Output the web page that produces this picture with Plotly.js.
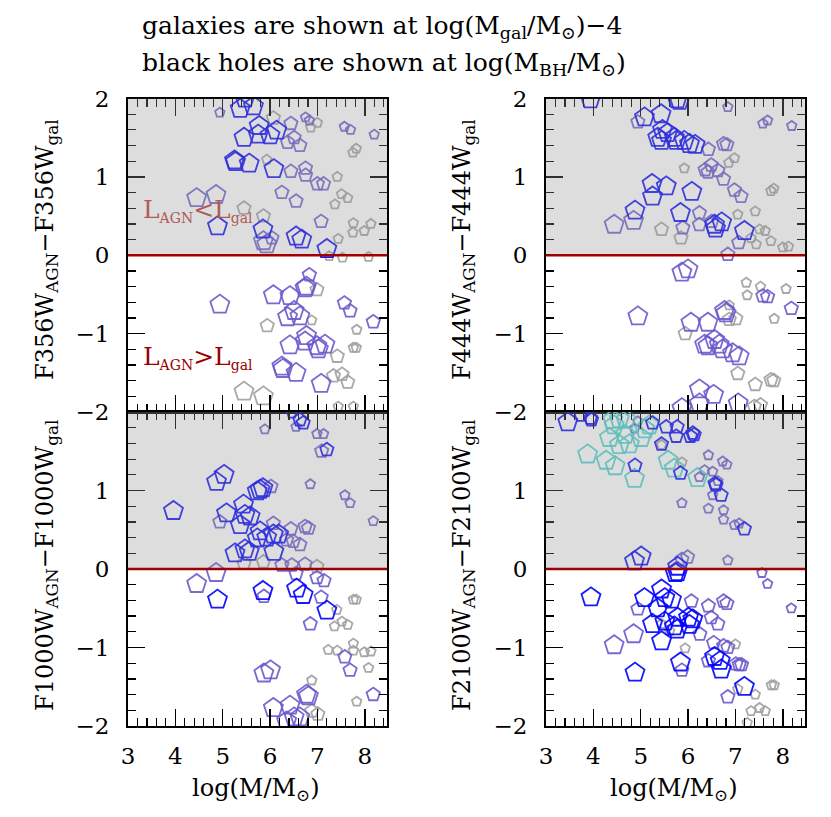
<!DOCTYPE html>
<html>
<head>
<meta charset="utf-8">
<script src="https://cdn.plot.ly/plotly-3.0.1.min.js"></script>
<style>
  html, body { margin: 0; padding: 0; background: #fff; }
  #plot { width: 831px; height: 817px; }
</style>
</head>
<body>
<div id="plot"></div>
<script>
// size class: 1 small, 2 medium, 3 large
// ---- F356W panel ----
const f356_blue_x = [5.37, 5.65, 5.47, 5.77, 6.14, 5.75, 6.00, 5.45, 5.25, 5.27, 5.56, 6.08, 4.89, 5.85, 6.55, 6.67, 7.20];
const f356_blue_y = [1.87, 1.90, 2.00, 1.65, 1.59, 1.54, 1.53, 1.50, 1.21, 1.19, 1.17, 1.10, 0.37, 0.33, 0.24, 0.20, 0.08];
const f356_blue_s = [3, 3, 3, 3, 3, 3, 3, 3, 3, 3, 3, 3, 3, 3, 3, 3, 3];

const f356_purp_x = [4.94, 6.44, 6.75, 6.83, 6.51, 6.37, 6.63, 7.57, 7.70, 8.20, 6.44, 6.75, 6.75, 7.00, 7.13, 4.45, 4.86, 6.25, 6.55, 7.08, 5.86, 5.93, 6.04,
  6.83, 6.77, 6.74, 6.07, 6.42, 4.94, 7.57, 7.69, 6.37, 6.51, 6.63, 8.18, 6.77, 6.74, 6.42, 6.99, 7.16, 7.02, 6.25, 6.27, 6.55, 7.08];
const f356_purp_y = [1.82, 1.68, 1.76, 1.72, 1.50, 1.44, 1.40, 1.64, 1.60, 1.54, 1.07, 1.11, 1.02, 0.91, 0.91, 0.73, 0.77, 0.80, 0.69, 0.43, 0.18, 0.14, 0.22,
  -0.25, -0.40, -0.42, -0.51, -0.52, -0.63, -0.61, -0.71, -0.79, -0.71, -0.78, -0.85, -1.03, -1.10, -1.15, -1.16, -1.14, -1.20, -1.42, -1.45, -1.50, -1.64];
const f356_purp_s = [1, 2, 1, 1, 2, 2, 2, 1, 1, 1, 2, 2, 2, 2, 2, 3, 3, 2, 2, 2, 3, 3, 2,
  2, 3, 3, 3, 3, 3, 2, 2, 3, 3, 3, 2, 3, 3, 3, 3, 3, 3, 3, 3, 3, 3];

const f356_gray_x = [6.07, 6.86, 7.00, 7.82, 7.75, 5.93, 7.42, 7.51, 7.64, 7.37, 5.45, 5.86, 7.76, 8.13, 7.75, 7.99, 7.44,
  7.25, 7.53, 8.08, 6.99, 6.88, 5.94, 7.83, 7.76, 7.82, 7.42, 7.34, 7.52, 7.64, 5.45, 5.86, 7.44, 7.76];
const f356_gray_y = [1.75, 1.63, 1.69, 1.36, 1.31, 1.22, 1.00, 0.78, 0.73, 0.65, 0.60, 0.50, 0.41, 0.40, 0.29, 0.31, 0.21,
  -0.01, -0.03, -0.02, -0.44, -0.83, -0.90, -0.95, -1.18, -1.18, -1.29, -1.54, -1.52, -1.62, -1.74, -1.80, -1.93, -1.93];
const f356_gray_s = [2, 1, 1, 1, 1, 1, 1, 1, 1, 1, 2, 2, 1, 1, 1, 1, 1,
  1, 1, 1, 2, 1, 2, 1, 1, 1, 2, 2, 2, 2, 3, 3, 1, 1];

// ---- F444W panel ----
const f444_blue_x = [3.94, 5.77, 5.82, 5.08, 5.43, 5.46, 5.57, 5.36, 5.44, 5.71, 5.75, 5.92, 6.03, 6.15, 5.24, 5.54, 5.25, 6.08, 4.88, 5.84, 6.56, 6.71, 6.58, 7.19];
const f444_blue_y = [1.99, 1.99, 1.97, 1.76, 1.80, 1.60, 1.56, 1.50, 1.46, 1.50, 1.46, 1.46, 1.42, 1.41, 0.91, 0.88, 0.75, 0.81, 0.57, 0.54, 0.39, 0.42, 0.34, 0.31];
const f444_blue_s = [3, 3, 3, 3, 3, 3, 3, 3, 3, 3, 3, 3, 3, 3, 3, 3, 3, 3, 3, 3, 3, 3, 3, 3];

const f444_purp_x = [6.84, 4.94, 7.58, 7.68, 8.19, 6.43, 6.75, 6.82, 6.36, 6.49, 6.42, 6.63, 6.75, 6.98, 7.12, 4.85, 4.44, 6.24, 6.24, 5.89, 6.50, 7.07, 6.84,
  5.87, 6.00, 7.58, 7.68, 8.18, 6.77, 6.80, 4.94, 6.06, 6.42, 6.35, 6.42, 6.56, 6.66, 6.73, 6.94, 7.08, 6.24, 6.54, 6.24, 5.87, 7.06];
const f444_purp_y = [1.89, 1.70, 1.68, 1.72, 1.65, 1.35, 1.42, 1.41, 1.09, 1.15, 1.06, 1.08, 0.97, 0.83, 0.75, 0.44, 0.39, 0.54, 0.39, 0.35, 0.43, 0.16, 0.01,
  -0.22, -0.18, -0.52, -0.53, -0.68, -0.71, -0.74, -0.78, -0.86, -0.86, -1.14, -1.16, -1.08, -1.14, -1.20, -1.25, -1.29, -1.71, -1.78, -1.89, -1.95, -1.89];
const f444_purp_s = [1, 2, 1, 1, 1, 2, 2, 2, 2, 2, 2, 2, 2, 2, 2, 3, 3, 2, 2, 2, 2, 2, 2,
  3, 3, 2, 2, 2, 3, 3, 3, 3, 3, 3, 3, 3, 3, 3, 3, 3, 3, 3, 3, 3, 3];

const f444_gray_x = [6.98, 6.86, 5.92, 7.75, 7.81, 7.05, 7.42, 5.44, 5.85, 7.33, 7.51, 7.63, 7.44, 7.75, 8.00, 8.12,
  7.23, 7.25, 7.53, 8.07, 7.82, 6.87, 7.01, 6.87, 5.94, 7.05, 7.42, 7.75, 7.81, 7.40, 7.53];
const f444_gray_y = [1.24, 1.18, 1.11, 0.82, 0.85, 0.52, 0.56, 0.33, 0.22, 0.22, 0.33, 0.31, 0.14, 0.18, 0.10, 0.11,
  -0.35, -0.51, -0.40, -0.43, -0.81, -0.64, -0.81, -0.82, -1.00, -1.51, -1.65, -1.59, -1.60, -1.93, -1.91];
const f444_gray_s = [1, 1, 1, 1, 1, 1, 1, 2, 2, 1, 1, 1, 1, 1, 1, 1,
  1, 1, 1, 1, 1, 1, 2, 2, 2, 2, 2, 2, 2, 2, 2];

// ---- F1000W panel ----
const f1000_blue_x = [6.46, 6.63, 6.70, 7.20, 5.03, 4.87, 5.79, 5.85, 5.73, 3.96, 5.44, 5.08, 5.58, 5.47, 5.37, 5.79, 5.73, 5.93, 6.07, 6.18, 5.26, 5.47, 5.56, 6.08,
  4.89, 5.85, 6.56, 6.70, 7.20];
const f1000_blue_y = [1.98, 1.90, 1.86, 1.52, 1.20, 1.11, 1.01, 1.03, 0.99, 0.74, 0.82, 0.71, 0.67, 0.69, 0.56, 0.48, 0.39, 0.40, 0.44, 0.44, 0.20, 0.25, 0.22, 0.22,
  -0.39, -0.28, -0.25, -0.33, -0.53];
const f1000_blue_s = [1, 2, 2, 2, 3, 3, 3, 3, 3, 3, 3, 3, 3, 3, 3, 3, 3, 3, 3, 3, 3, 3, 3, 3,
  3, 3, 3, 3, 3];

const f1000_purp_x = [6.55, 5.89, 6.99, 7.13, 7.09, 6.02, 6.85, 7.58, 7.69, 4.94, 8.18, 6.07, 6.44, 6.74, 6.81, 6.35, 6.49, 6.63, 6.25, 6.46, 6.74,
  4.86, 4.45, 5.87, 6.55, 6.99, 7.14, 7.08, 6.85, 7.58, 7.69, 5.87, 6.01, 6.77, 6.81, 8.18, 6.07, 6.42, 6.51, 6.63, 6.35];
const f1000_purp_y = [1.81, 1.78, 1.72, 1.72, 1.50, 1.05, 1.08, 0.94, 0.84, 0.60, 0.61, 0.58, 0.51, 0.54, 0.52, 0.37, 0.35, 0.31, 0.05, 0.05, 0.06,
  -0.05, -0.19, -0.35, -0.06, -0.11, -0.15, -0.36, -0.70, -1.12, -1.29, -1.33, -1.29, -1.60, -1.62, -1.60, -1.77, -1.74, -1.89, -1.89, -1.94];
const f1000_purp_s = [1, 1, 1, 1, 2, 2, 1, 1, 1, 2, 1, 2, 2, 2, 2, 2, 2, 2, 2, 2, 2,
  3, 3, 2, 2, 2, 2, 2, 2, 2, 2, 3, 3, 3, 3, 2, 3, 3, 3, 3, 3];

const f1000_gray_x = [5.45, 5.86, 6.99, 7.76, 7.82, 7.41, 7.52, 7.64, 7.36, 7.23, 7.42, 7.76, 7.76, 7.99, 8.13, 8.08, 6.88, 7.83, 6.88, 7.01];
const f1000_gray_y = [0.07, 0.09, 0.03, -0.39, -0.39, -0.52, -0.67, -0.71, -0.73, -1.03, -1.04, -0.95, -1.04, -1.06, -1.05, -1.26, -1.42, -1.69, -1.81, -1.85];
const f1000_gray_s = [2, 2, 2, 1, 1, 1, 1, 1, 1, 1, 1, 1, 1, 1, 1, 1, 1, 1, 2, 2];

// ---- F2100W panel ----
const f2100_blue_x = [3.46, 3.94, 3.96, 3.74, 5.25, 5.54, 5.77, 5.75, 6.10, 6.05, 6.13, 5.44, 4.88, 5.84, 6.57, 6.59, 6.70, 7.19, 5.01, 4.87, 5.78,
  5.78, 5.73, 3.95, 5.08, 5.44, 5.51, 5.65, 5.36, 5.25, 5.51, 5.78, 5.71, 6.01, 6.10, 6.03, 5.77, 5.44, 6.56, 6.68, 6.70, 5.84, 4.88, 7.19];
const f2100_blue_y = [1.87, 1.92, 1.90, 1.96, 1.86, 1.81, 1.81, 1.69, 1.73, 1.69, 1.71, 1.59, 1.32, 1.22, 1.09, 1.07, 0.94, 0.51, 0.16, 0.10, 0.03,
  -0.04, -0.05, -0.36, -0.37, -0.26, -0.37, -0.39, -0.50, -0.70, -0.67, -0.62, -0.73, -0.62, -0.64, -0.71, -0.77, -0.92, -1.12, -1.17, -1.28, -1.19, -1.32, -1.50];
const f2100_blue_s = [3, 2, 2, 2, 2, 2, 2, 2, 2, 2, 2, 2, 2, 2, 2, 2, 2, 2, 3, 3, 3,
  3, 3, 3, 3, 3, 3, 3, 3, 3, 3, 3, 3, 3, 3, 3, 3, 3, 3, 3, 3, 3, 3, 3];

const f2100_turq_x = [4.41, 4.55, 4.69, 4.44, 4.34, 4.55, 4.76, 4.67, 5.01, 5.09, 5.18, 3.88, 4.27, 4.46, 4.87, 5.58, 5.71, 6.20];
const f2100_turq_y = [1.90, 1.91, 1.90, 1.83, 1.67, 1.58, 1.59, 1.71, 1.67, 1.78, 1.83, 1.46, 1.38, 1.31, 1.15, 1.38, 1.28, 1.16];
const f2100_turq_s = [3, 3, 3, 3, 3, 3, 3, 3, 3, 3, 3, 3, 3, 3, 3, 3, 3, 3];

const f2100_purp_x = [4.94, 4.87, 6.43, 6.73, 6.82, 6.35, 6.52, 6.24, 6.63, 6.52, 5.87, 6.43, 6.75, 6.75, 6.98, 7.08, 5.87, 5.99, 6.84,
  7.56, 7.68, 4.94, 6.07, 6.43, 6.75, 6.82, 8.18, 6.49, 6.63, 6.25, 4.85, 4.44, 6.54, 6.75, 6.84, 6.43, 7.01, 7.08, 7.13, 5.87, 6.84];
const f2100_purp_y = [1.88, 1.79, 1.45, 1.37, 1.33, 1.26, 1.24, 1.17, 1.12, 0.94, 0.84, 0.77, 0.75, 0.63, 0.56, 0.58, 0.12, 0.15, 0.11,
  -0.05, -0.19, -0.51, -0.41, -0.47, -0.41, -0.44, -0.50, -0.62, -0.70, -0.83, -0.83, -0.97, -0.94, -0.98, -1.00, -1.17, -1.21, -1.22, -1.22, -1.29, -1.63];
const f2100_purp_s = [1, 1, 1, 1, 1, 1, 1, 1, 1, 1, 1, 1, 1, 1, 1, 1, 2, 2, 1,
  1, 1, 2, 2, 2, 2, 2, 1, 2, 2, 2, 3, 3, 2, 2, 2, 2, 2, 2, 2, 2, 2];

const f2100_gray_x = [5.44, 5.87, 5.44, 5.61, 5.94, 7.00, 7.76, 7.82, 7.05, 7.42, 7.33, 7.51, 7.63, 7.25];
const f2100_gray_y = [1.58, 1.36, -0.70, -0.79, -1.01, -0.96, -1.48, -1.48, -1.53, -1.60, -1.81, -1.77, -1.81, -1.96];
const f2100_gray_s = [1, 1, 1, 1, 1, 1, 1, 1, 1, 1, 1, 1, 1, 1];

const FONT = 'DejaVu Serif, Liberation Serif, serif';
const px = {1: 10, 2: 14, 3: 20};
const colors = {blue: '#0000ff', purp: '#6a5acd', gray: '#a0a0a0', turq: '#48d1cc'};

function pent(xs, ys, ss, col, xa, ya) {
  return {
    x: xs, y: ys, xaxis: xa, yaxis: ya,
    type: 'scatter', mode: 'markers', showlegend: false, hoverinfo: 'skip',
    marker: {
      symbol: 'pentagon-open',
      size: ss.map(s => px[s]),
      color: colors[col],
      opacity: 0.9,
      line: {width: 1.8}
    }
  };
}

const data = [
  pent(f356_gray_x, f356_gray_y, f356_gray_s, 'gray', 'x', 'y'),
  pent(f356_purp_x, f356_purp_y, f356_purp_s, 'purp', 'x', 'y'),
  pent(f356_blue_x, f356_blue_y, f356_blue_s, 'blue', 'x', 'y'),
  pent(f444_gray_x, f444_gray_y, f444_gray_s, 'gray', 'x2', 'y2'),
  pent(f444_purp_x, f444_purp_y, f444_purp_s, 'purp', 'x2', 'y2'),
  pent(f444_blue_x, f444_blue_y, f444_blue_s, 'blue', 'x2', 'y2'),
  pent(f1000_gray_x, f1000_gray_y, f1000_gray_s, 'gray', 'x3', 'y3'),
  pent(f1000_purp_x, f1000_purp_y, f1000_purp_s, 'purp', 'x3', 'y3'),
  pent(f1000_blue_x, f1000_blue_y, f1000_blue_s, 'blue', 'x3', 'y3'),
  pent(f2100_gray_x, f2100_gray_y, f2100_gray_s, 'gray', 'x4', 'y4'),
  pent(f2100_purp_x, f2100_purp_y, f2100_purp_s, 'purp', 'x4', 'y4'),
  pent(f2100_turq_x, f2100_turq_y, f2100_turq_s, 'turq', 'x4', 'y4'),
  pent(f2100_blue_x, f2100_blue_y, f2100_blue_s, 'blue', 'x4', 'y4')
];

const domL = [128 / 831, 387 / 831];
const domR = [546 / 831, 805 / 831];
const domT = [1 - 412 / 817, 1 - 98.5 / 817];
const domB = [1 - 726 / 817, 1 - 412 / 817];

const minorTicks = {ticks: 'inside', ticklen: 8, tickwidth: 1.2, tickcolor: 'black', tickmode: 'linear', tick0: 0, dtick: 0.2, showgrid: false};

function xax(dom, anchor, labels) {
  return {
    domain: dom, anchor: anchor, range: [3, 8.47],
    showline: true, linecolor: 'black', linewidth: 2, mirror: 'allticks',
    ticks: 'inside', ticklen: 17, tickwidth: 1.5, tickcolor: 'black',
    tickmode: 'linear', tick0: 3, dtick: 1,
    showgrid: false, zeroline: false, showticklabels: labels,
    ticklabelstandoff: 8,
    tickfont: {family: FONT, size: 23, color: 'black'},
    minor: minorTicks
  };
}

function yax(dom, anchor, top) {
  return {
    domain: dom, anchor: anchor, range: [-2, 2],
    showline: true, linecolor: 'black', linewidth: 2, mirror: 'allticks',
    ticks: 'inside', ticklen: 17, tickwidth: 1.5, tickcolor: 'black',
    tickmode: 'array', tickvals: [-2, -1, 0, 1, 2],
    ticktext: top ? ['\u22122', '\u22121', '0', '1', '2'] : ['\u22122', '\u22121', '0', '1', ''],
    showgrid: false, zeroline: false,
    ticklabelstandoff: 12,
    tickfont: {family: FONT, size: 23, color: 'black'},
    minor: minorTicks
  };
}

const panels = [['x', 'y'], ['x2', 'y2'], ['x3', 'y3'], ['x4', 'y4']];
const shapes = [];
panels.forEach(([xa, ya]) => {
  shapes.push({type: 'rect', layer: 'above', xref: xa + ' domain', yref: ya, x0: 0, x1: 1, y0: 0, y1: 2,
    fillcolor: 'rgba(150,150,150,0.32)', line: {width: 0}});
  shapes.push({type: 'line', layer: 'above', xref: xa + ' domain', yref: ya, x0: 0, x1: 1, y0: 0, y1: 0,
    line: {color: '#a00000', width: 2.5}});
});

const ytitles = [
  ['F356W<sub>AGN</sub>\u2212F356W<sub>gal</sub>', 46, 250],
  ['F444W<sub>AGN</sub>\u2212F444W<sub>gal</sub>', 463, 250],
  ['F1000W<sub>AGN</sub>\u2212F1000W<sub>gal</sub>', 46, 566],
  ['F2100W<sub>AGN</sub>\u2212F2100W<sub>gal</sub>', 463, 566]
];

const sub = t => '<sub><span style="font-size:14px">' + t + '</span></sub>';

const annotations = [
  {text: 'galaxies are shown at log(M<sub>gal</sub>/M<sub>\u2299</sub>)\u22124', xref: 'paper', yref: 'paper',
    x: 140 / 831, y: 1 - 27 / 817, xanchor: 'left', yanchor: 'middle', showarrow: false,
    font: {family: FONT, size: 25, color: 'black'}},
  {text: 'black holes are shown at log(M<sub>BH</sub>/M<sub>\u2299</sub>)', xref: 'paper', yref: 'paper',
    x: 140 / 831, y: 1 - 64 / 817, xanchor: 'left', yanchor: 'middle', showarrow: false,
    font: {family: FONT, size: 25, color: 'black'}},
  {text: 'log(M/M<sub>\u2299</sub>)', xref: 'paper', yref: 'paper', x: 256 / 831, y: 1 - 789 / 817,
    xanchor: 'center', yanchor: 'middle', showarrow: false, font: {family: FONT, size: 24, color: 'black'}},
  {text: 'log(M/M<sub>\u2299</sub>)', xref: 'paper', yref: 'paper', x: 674 / 831, y: 1 - 789 / 817,
    xanchor: 'center', yanchor: 'middle', showarrow: false, font: {family: FONT, size: 24, color: 'black'}},
  {text: 'L' + sub('AGN') + '&lt;L' + sub('gal'), xref: 'x', yref: 'y', x: 3.28, y: 0.57,
    xanchor: 'left', yanchor: 'middle', showarrow: false, font: {family: FONT, size: 25, color: '#b05a5a'}},
  {text: 'L' + sub('AGN') + '&gt;L' + sub('gal'), xref: 'x', yref: 'y', x: 3.28, y: -1.30,
    xanchor: 'left', yanchor: 'middle', showarrow: false, font: {family: FONT, size: 25, color: '#990000'}}
];
ytitles.forEach(([t, x, y]) => {
  annotations.push({text: t, xref: 'paper', yref: 'paper', x: x / 831, y: 1 - y / 817, textangle: -90,
    xanchor: 'center', yanchor: 'middle', showarrow: false, font: {family: FONT, size: 24, color: 'black'}});
});

const layout = {
  width: 831, height: 817,
  margin: {l: 0, r: 0, t: 0, b: 0},
  paper_bgcolor: 'white', plot_bgcolor: 'white',
  showlegend: false,
  xaxis: xax(domL, 'y', false),
  yaxis: yax(domT, 'x', true),
  xaxis2: xax(domR, 'y2', false),
  yaxis2: yax(domT, 'x2', true),
  xaxis3: xax(domL, 'y3', true),
  yaxis3: yax(domB, 'x3', false),
  xaxis4: xax(domR, 'y4', true),
  yaxis4: yax(domB, 'x4', false),
  shapes: shapes,
  annotations: annotations
};

Plotly.newPlot('plot', data, layout, {displayModeBar: false, staticPlot: true});
</script>
</body>
</html>
